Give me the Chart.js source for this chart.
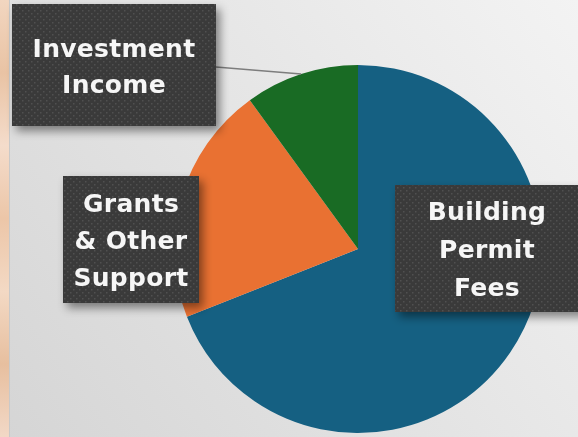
<!DOCTYPE html>
<html>
<head>
<meta charset="utf-8">
<script src="https://cdn.jsdelivr.net/npm/chart.js@4.4.1/dist/chart.umd.min.js"></script>
<style>
  html, body { margin: 0; padding: 0; background: #e4e4e4; }
  #wrap { width: 578px; height: 437px; position: relative; }
</style>
</head>
<body>
<div id="wrap"><canvas id="myChart" width="578" height="437"></canvas></div>
<script>
// Revenue sources (share of total, %)
var categories = ['Building Permit Fees', 'Grants & Other Support', 'Investment Income'];
var shares = [69, 21, 10];
var sliceColors = ['#156082', '#E97132', '#196B24'];
// label text, broken into lines as in the picture
var labelLines = [
  ['Building', 'Permit', 'Fees'],
  ['Grants', '& Other', 'Support'],
  ['Investment', 'Income']
];

// little dotted texture for the label boxes
function makeDots() {
  var c = document.createElement('canvas');
  c.width = 6; c.height = 6;
  var g = c.getContext('2d');
  g.fillStyle = '#3a3a3a';
  g.fillRect(0, 0, 6, 6);
  g.fillStyle = '#505050';
  g.fillRect(1, 1, 1.5, 1.5);
  g.fillRect(4, 4, 1.5, 1.5);
  return c;
}
var dots = makeDots();

// background: wood strip on the left, light grey slide behind
var backdrop = {
  id: 'backdrop',
  beforeDraw: function(chart) {
    var ctx = chart.ctx, w = chart.width, h = chart.height;
    ctx.save();
    var bg = ctx.createLinearGradient(0, h, w, 0);
    bg.addColorStop(0, '#d5d5d5');
    bg.addColorStop(0.6, '#e7e7e7');
    bg.addColorStop(1, '#f3f3f3');
    ctx.fillStyle = bg;
    ctx.fillRect(0, 0, w, h);
    // wood strip
    var wood = ctx.createLinearGradient(0, 0, 0, h);
    var stops = ['#f2d6c0', '#e9c3a4', '#f4dccb', '#ecc6a8', '#f3d9c4', '#e7bf9f', '#f2d8c6'];
    stops.forEach(function(s, i) { wood.addColorStop(i / (stops.length - 1), s); });
    ctx.fillStyle = wood;
    ctx.fillRect(0, 0, 9, h);
    ctx.fillStyle = '#c9c9c9';
    ctx.fillRect(9, 0, 1, h);
    ctx.restore();
  }
};

// dark callout boxes with white bold text
var callouts = {
  id: 'callouts',
  afterDatasetsDraw: function(chart) {
    var ctx = chart.ctx;
    var arcs = chart.getDatasetMeta(0).data;
    var boxes = [
      { x: 395, y: 185, w: 190, h: 127, cx: 487, ty: 213, lh: 38 },
      { x: 63, y: 176, w: 136, h: 127, cx: 131, ty: 205, lh: 37 },
      { x: 12, y: 4, w: 204, h: 122, cx: 114, ty: 50, lh: 36 }
    ];

    // leader line for Investment Income
    var a = arcs[2];
    var mid = (a.startAngle + a.endAngle) / 2;
    ctx.save();
    ctx.strokeStyle = '#7d7d7d';
    ctx.lineWidth = 1.5;
    ctx.beginPath();
    ctx.moveTo(216, 67);
    ctx.lineTo(a.x + Math.cos(mid) * a.outerRadius, a.y + Math.sin(mid) * a.outerRadius);
    ctx.stroke();
    ctx.restore();

    var pat = ctx.createPattern(dots, 'repeat');
    boxes.forEach(function(b, i) {
      ctx.save();
      ctx.shadowColor = 'rgba(0,0,0,0.45)';
      ctx.shadowBlur = 10;
      ctx.shadowOffsetX = 4;
      ctx.shadowOffsetY = 5;
      ctx.fillStyle = pat;
      ctx.fillRect(b.x, b.y, b.w, b.h);
      ctx.restore();

      ctx.save();
      ctx.fillStyle = '#f6f6f6';
      ctx.font = 'bold 25px "DejaVu Sans"';
      ctx.letterSpacing = '0.3px';
      ctx.textAlign = 'center';
      ctx.textBaseline = 'middle';
      labelLines[i].forEach(function(t, k) {
        ctx.fillText(t, b.cx, b.ty + k * b.lh);
      });
      ctx.restore();
    });
  }
};

var ctx = document.getElementById('myChart').getContext('2d');
var myChart = new Chart(ctx, {
  type: 'pie',
  data: {
    labels: categories,
    datasets: [{
      data: shares,
      backgroundColor: sliceColors,
      borderWidth: 0
    }]
  },
  options: {
    responsive: false,
    animation: false,
    layout: { padding: { left: 174, right: 36, top: 65, bottom: 4 } },
    plugins: {
      legend: { display: false },
      tooltip: { enabled: false }
    }
  },
  plugins: [backdrop, callouts]
});
</script>
</body>
</html>
